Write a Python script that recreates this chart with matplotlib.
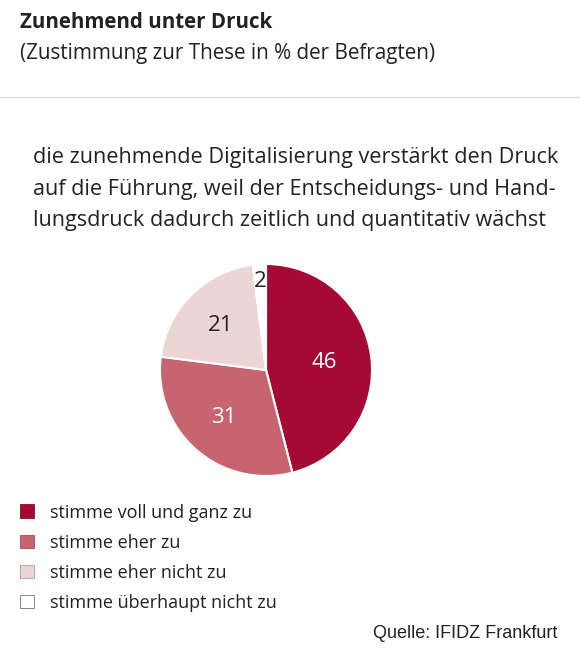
import numpy as np
import matplotlib.pyplot as plt
from matplotlib.patches import Patch
from matplotlib.lines import Line2D

categories = ["stimme voll und ganz zu", "stimme eher zu",
              "stimme eher nicht zu", "stimme überhaupt nicht zu"]
values = [46, 31, 21, 2]
colors = ["#a50a35", "#c8646f", "#ecd5d5", "#ffffff"]
text_colors = ["white", "white", "#222222", "#222222"]
label_dist = [0.55, 0.6, 0.6, 0.84]

title = "Zunehmend unter Druck"
subtitle = "(Zustimmung zur These in % der Befragten)"
question = ["die zunehmende Digitalisierung verstärkt den Druck",
            "auf die Führung, weil der Entscheidungs- und Hand-",
            "lungsdruck dadurch zeitlich und quantitativ wächst"]
source = "Quelle: IFIDZ Frankfurt"

W, H = 580, 652
plt.rcParams['font.family'] = ['Open Sans', 'DejaVu Sans']
fig = plt.figure(figsize=(W / 100, H / 100), dpi=100)

def px(x, y):
    return x / W, 1 - y / H

fig.text(*px(20, 23), title, fontsize=14.8, fontweight='bold', color='#222222', va='center')
fig.text(*px(20, 54), subtitle, fontsize=14.9, color='#222222', va='center')
fig.add_artist(Line2D([0, 1], [1 - 97 / H] * 2, color='#dddddd', lw=1))

for k, line in enumerate(question):
    fig.text(*px(33, 158 + 31.5 * k), line, fontsize=15.6, color='#222222', va='center')

# pie
cx, cy, r = 266, 370, 106
ax = fig.add_axes([(cx - r) / W, (H - cy - r) / H, 2 * r / W, 2 * r / H])
wedges, _ = ax.pie(values, colors=colors, startangle=90, counterclock=False,
                   wedgeprops=dict(edgecolor='white', linewidth=1.5))
ax.set_xlim(-1, 1)
ax.set_ylim(-1, 1)
ax.set_aspect('equal')
for w, v, tc, d in zip(wedges, values, text_colors, label_dist):
    ang = np.deg2rad((w.theta1 + w.theta2) / 2)
    ax.text(d * np.cos(ang), d * np.sin(ang), str(v), ha='center', va='center',
            fontsize=16, color=tc)

handles = [Patch(facecolor=c, edgecolor='#777777' if c == '#ffffff' else '#8a0a2a', lw=0.6)
           for c in colors]
handles[1].set_edgecolor('#a84a55')
handles[2].set_edgecolor('#b89a9a')
fig.legend(handles, categories, loc='upper left', bbox_to_anchor=px(20, 503.5),
           frameon=False, fontsize=13, handlelength=0.78, handleheight=0.78,
           handletextpad=0.9, labelspacing=0.67, borderpad=0, borderaxespad=0,
           labelcolor='#222222')

fig.text(*px(557, 633), source, fontsize=13, color='#222222', ha='right', va='center',
         family=['Liberation Sans', 'DejaVu Sans'])

fig.savefig("out.png", dpi=100, facecolor='white')
